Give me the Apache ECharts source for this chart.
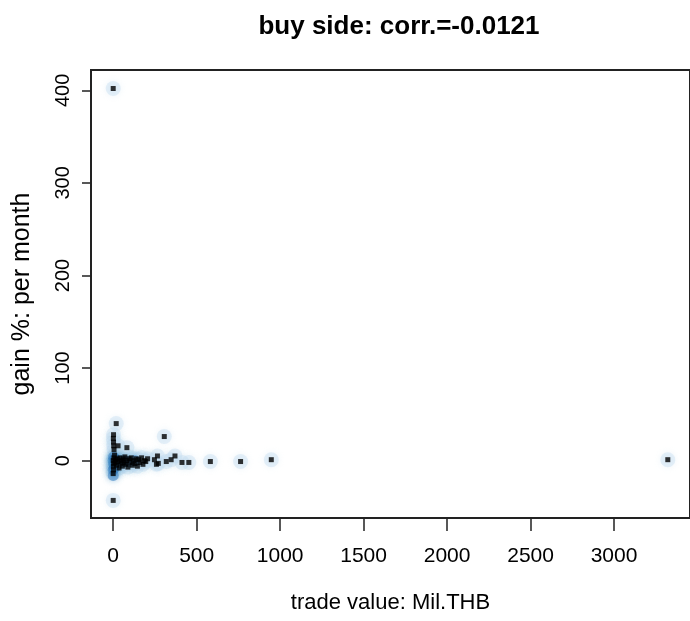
<!DOCTYPE html>
<html>
<head>
<meta charset="utf-8">
<script src="https://cdn.jsdelivr.net/npm/echarts@6/dist/echarts.min.js"></script>
<style>
  html, body { margin: 0; padding: 0; background: #fff; }
  #chart { width: 690px; height: 621px; }
</style>
</head>
<body>
<div id="chart"></div>
<script>
// tick labels
const xTicks = [0, 500, 1000, 1500, 2000, 2500, 3000];
const yTicks = [0, 100, 200, 300, 400];

// trades plotted as black dots: [trade value (Mil.THB), gain % per month]
const trades = [
  [0, 402], [18, 40], [0, -43], [3322, 1],
  [2, 28], [1, 24], [2, 20], [3, 16], [29, 16], [82, 14], [306, 26], [5, 12],
  [0, -14], [2, -10], [1, -6], [3, -3], [0, 0], [4, 3], [8, 6], [12, -2],
  [15, 1], [20, -5], [25, 2], [30, -1], [35, -8], [40, 3], [45, -3], [50, 0],
  [55, -6], [60, 2], [65, -2], [70, 4], [75, -4], [80, 0], [88, -7], [95, 2],
  [100, -2], [108, 3], [115, -5], [122, 0], [130, -3], [138, 2], [145, -6],
  [152, 1], [160, -2], [170, 3], [178, -4], [186, 0], [195, -1], [206, 2],
  [247, 1], [259, -4], [265, 5], [270, -3], [318, -1], [347, 1], [370, 5],
  [412, -2], [453, -2], [582, -1], [763, -1], [947, 1]
];

// densest part of the cloud (darker blue shading)
const denseCore = [
  [0, 0], [3, -4], [2, 4], [6, -8], [0, -10], [0, -16], [10, 2], [20, 0],
  [35, -2], [60, 0], [90, -1], [130, 0]
];

const chart = echarts.init(document.getElementById("chart"));

const plainNumber = (v) => String(v);

const option = {
  animation: false,
  title: {
    text: "buy side: corr.=-0.0121",
    left: 394,
    top: 9,
    textAlign: "center",
    textStyle: {
      fontFamily: "Liberation Sans, Arial, sans-serif",
      fontWeight: "bold",
      fontSize: 26,
      color: "#000",
    },
  },
  grid: {
    left: 91,
    right: -10,
    top: 70,
    bottom: 103,
    show: true,
    borderColor: "#222",
    borderWidth: 2,
  },
  xAxis: {
    type: "value",
    min: -133,
    max: 3455,
    name: "trade value: Mil.THB",
    nameLocation: "middle",
    nameGap: 74,
    nameTextStyle: {
      fontFamily: "Liberation Sans, Arial, sans-serif",
      fontSize: 22,
      color: "#000",
      verticalAlign: "top",
    },
    axisLine: { show: false, onZero: false },
    splitLine: { show: false },
    axisTick: {
      show: true,
      length: 13,
      customValues: xTicks,
      lineStyle: { color: "#222", width: 1.5 },
    },
    axisLabel: {
      customValues: xTicks,
      formatter: plainNumber,
      margin: 28,
      fontFamily: "Liberation Sans, Arial, sans-serif",
      fontSize: 21,
      color: "#000",
      verticalAlign: "top",
    },
  },
  yAxis: {
    type: "value",
    min: -62,
    max: 422,
    name: "gain %: per month",
    nameLocation: "middle",
    nameGap: 56,
    nameTextStyle: {
      fontFamily: "Liberation Sans, Arial, sans-serif",
      fontSize: 25,
      color: "#000",
    },
    axisLine: { show: false, onZero: false },
    splitLine: { show: false },
    axisTick: {
      show: true,
      length: 9,
      customValues: yTicks,
      lineStyle: { color: "#222", width: 1.5 },
    },
    axisLabel: {
      customValues: yTicks,
      formatter: plainNumber,
      rotate: 90,
      margin: 18,
      fontFamily: "Liberation Sans, Arial, sans-serif",
      fontSize: 20,
      color: "#000",
    },
  },
  series: [
    {
      name: "halo",
      type: "scatter",
      data: trades,
      symbol: "circle",
      symbolSize: 15,
      silent: true,
      itemStyle: {
        color: "rgba(189,215,238,0.45)",
        shadowBlur: 6,
        shadowColor: "rgba(198,219,239,0.8)",
      },
    },
    {
      name: "core",
      type: "scatter",
      data: denseCore,
      symbol: "circle",
      symbolSize: 11,
      silent: true,
      itemStyle: {
        color: "rgba(49,120,189,0.6)",
        shadowBlur: 6,
        shadowColor: "rgba(66,146,198,0.8)",
      },
    },
    {
      name: "trades",
      type: "scatter",
      data: trades,
      symbol: "rect",
      symbolSize: 5,
      itemStyle: { color: "#000" },
    },
  ],
};

chart.setOption(option);
</script>
</body>
</html>
